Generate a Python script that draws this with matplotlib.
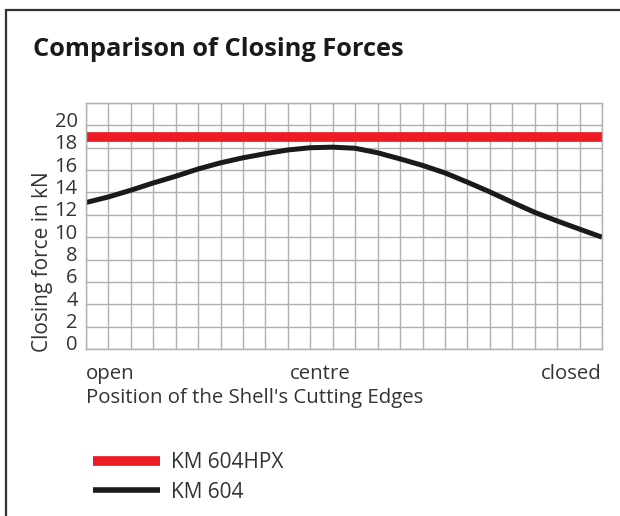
import matplotlib
matplotlib.use("Agg")
import matplotlib.pyplot as plt
import matplotlib.transforms as mtransforms
from matplotlib.patches import Rectangle

# ---- data ----
positions = list(range(0, 24))  # grid columns from open (0) to closed (23)
km604 = [13.1, 13.6, 14.2, 14.85, 15.45, 16.1, 16.65, 17.1, 17.47, 17.8, 18.0, 18.05,
         17.95, 17.55, 17.0, 16.42, 15.75, 14.92, 14.05, 13.12, 12.22, 11.45, 10.72, 10.0]
km604hpx = [19.0] * len(positions)
y_ticks = list(range(0, 23, 2))
y_tick_labels = ["0", "2", "4", "6", "8", "10", "12", "14", "16", "18", "20", ""]
x_labels = ["open", "centre", "closed"]
series_names = ["KM 604HPX", "KM 604"]

FONT = ["Open Sans", "DejaVu Sans"]
plt.rcParams["font.family"] = FONT
TXT = "#333333"

W, H = 620, 516
fig = plt.figure(figsize=(W / 100, H / 100), dpi=100)

def fx(px):
    return px / W

def fy(py):
    return 1 - py / H

# border
fig.patches.append(Rectangle((fx(6), fy(600)), fx(700), fy(10) - fy(600),
                             transform=fig.transFigure, fill=False,
                             edgecolor="#333333", linewidth=1.6))

left, right, top, bottom = 86, 602, 103, 349
ax = fig.add_axes([fx(left), fy(bottom), fx(right - left), fy(top) - fy(bottom)])
ax.set_xlim(0, 23)
ax.set_ylim(0, 22)

ax.set_xticks(range(0, 24))
ax.set_yticks(y_ticks)
ax.grid(True, color="#b0b0b0", linewidth=1.0)
ax.set_axisbelow(True)
for s in ax.spines.values():
    s.set_color("#b0b0b0")
    s.set_linewidth(1.0)
ax.tick_params(axis="both", length=0)
ax.set_xticklabels([])
ax.set_yticklabels(y_tick_labels, fontsize=14.5, color=TXT)
ax.tick_params(axis="y", pad=6)
off = mtransforms.ScaledTranslation(0, 6 / 100, fig.dpi_scale_trans)
for lab in ax.get_yticklabels():
    lab.set_transform(lab.get_transform() + off)

l1, = ax.plot(positions, km604hpx, color="#ed1c24", linewidth=7, solid_capstyle="butt",
              label=series_names[0])
l2, = ax.plot(positions, km604, color="#1a1a1a", linewidth=3.6, solid_capstyle="butt",
              solid_joinstyle="round", label=series_names[1])

# x category labels
ax.text(0, -0.06, x_labels[0], transform=ax.transAxes, ha="left", va="top",
        fontsize=14.7, color=TXT)
ax.text(10.45 / 23, -0.06, x_labels[1], transform=ax.transAxes, ha="center", va="top",
        fontsize=14.7, color=TXT)
ax.text(1, -0.06, x_labels[2], transform=ax.transAxes, ha="right", va="top",
        fontsize=14.7, color=TXT)

fig.text(fx(86), fy(398), "Position of the Shell's Cutting Edges", ha="left", va="center",
         fontsize=14.7, color=TXT)
fig.text(fx(43), fy(262), "Closing force in kN", rotation=90, ha="center", va="center",
         fontsize=15, color=TXT)
fig.text(fx(33), fy(50), "Comparison of Closing Forces", ha="left", va="center",
         fontsize=18.3, fontweight="bold", color="#1a1a1a")

leg = fig.legend(handles=[l1, l2], loc="upper left",
                 bbox_to_anchor=(fx(93), fy(452)), frameon=False,
                 fontsize=15, handlelength=3.2, handletextpad=0.55,
                 labelspacing=0.42, borderaxespad=0, borderpad=0)
for t in leg.get_texts():
    t.set_color(TXT)
leg.get_lines()[0].set_linewidth(7)
leg.get_lines()[1].set_linewidth(4)

fig.savefig("out.png", dpi=100)
